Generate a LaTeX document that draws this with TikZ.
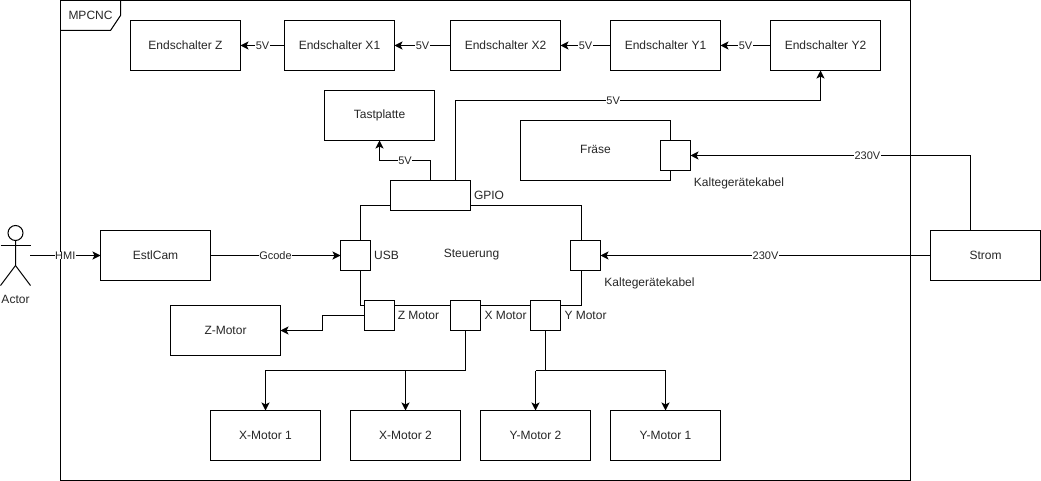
\documentclass[tikz,border=0pt]{standalone}
\usepackage{fontspec}
\setmainfont{Liberation Sans}
\usetikzlibrary{arrows.meta}
\tikzset{
  every node/.style={font=\fontsize{12}{14}\selectfont, text=black!85, inner sep=0pt, outer sep=0pt},
  box/.style={draw=black, line width=1pt, fill=white, text=black!85},
  wide/.style={box, minimum width=110pt, minimum height=50pt},
  port/.style={box, minimum width=30pt, minimum height=30pt},
  wire/.style={draw=black, line width=1pt, -{Stealth[length=8pt,width=8pt,inset=2pt]}},
  plain/.style={draw=black, line width=1pt},
  lab/.style={fill=white, inner xsep=0.5pt, inner ysep=0pt, font=\fontsize{11}{13}\selectfont},
  tag/.style={text=black!85}
}
\begin{document}
\begin{tikzpicture}[x=1pt,y=-1pt]
\useasboundingbox (0,0) rectangle (1041,481);
% frame
\node[draw=black, line width=1pt, minimum width=850pt, minimum height=480pt] (frame) at (485.5,240.5) {};
\draw[plain] (60.5,0.5) -- (120.5,0.5) -- (120.5,15.5) -- (110.5,30.5) -- (60.5,30.5);
\node[tag] (mpcnc) at (90.5,15) {MPCNC};
% actor
\coordinate (actorhand) at (30,255.5);
\draw[plain] (15.5,233) circle (7.5);
\draw[plain] (15.5,240.5) -- (15.5,265.5) -- (0.5,285.5);
\draw[plain] (15.5,265.5) -- (30.5,285.5);
\draw[plain] (0.5,245.5) -- (30.5,245.5);
\node[tag] (actorlab) at (15.5,299) {Actor};
% top row
\node[wide] (ez) at (185.5,45.5) {Endschalter Z};
\node[wide] (ex1) at (339.5,45.5) {Endschalter X1};
\node[wide] (ex2) at (505.5,45.5) {Endschalter X2};
\node[wide] (ey1) at (665.5,45.5) {Endschalter Y1};
\node[wide] (ey2) at (825.5,45.5) {Endschalter Y2};
\node[wide] (tast) at (379.5,115.5) {Tastplatte};
\node[box, minimum width=150pt, minimum height=60pt] (fraese) at (595.5,150.5) {};
\node (fraeselab) at (595.5,149.5) {Fräse};
\node[port] (fport) at (675.5,155.5) {};
\node[wide] (strom) at (985.5,255.5) {Strom};
\node[wide] (estl) at (155.5,255.5) {EstlCam};
\node[wide] (zm) at (225.5,330.5) {Z-Motor};
\node[wide] (xm1) at (265.5,435.5) {X-Motor 1};
\node[wide] (xm2) at (405.5,435.5) {X-Motor 2};
\node[wide] (ym2) at (535.5,435.5) {Y-Motor 2};
\node[wide] (ym1) at (665.5,435.5) {Y-Motor 1};
% controller
\node[box, minimum width=221pt, minimum height=100pt] (steuer) at (471,255.5) {};
\node (steuerlab) at (471.5,254.5) {Steuerung};
\node[box, minimum width=80pt, minimum height=30pt] (gpio) at (430.5,195.5) {};
\node[port] (usb) at (355.5,255.5) {};
\node[port] (pow) at (585.5,255.5) {};
\node[port] (zp) at (379.5,315.5) {};
\node[port] (xp) at (465.5,315.5) {};
\node[port] (yp) at (545.5,315.5) {};
% port labels
\node[tag] (gpiolab) at (489,195.5) {GPIO};
\node[tag] (usblab) at (386.5,255.5) {USB};
\node[tag] (zlab) at (418.5,315.5) {Z Motor};
\node[tag] (xlab) at (505.5,315.5) {X Motor};
\node[tag] (ylab) at (585.5,315.5) {Y Motor};
\node[tag] (k1) at (739,183.5) {Kaltegerätekabel};
\node[tag] (k2) at (649.5,283.5) {Kaltegerätekabel};
% chain
\draw[wire] (ex1) -- node[lab]{5V} (ez);
\draw[wire] (ex2) -- node[lab]{5V} (ex1);
\draw[wire] (ey1) -- node[lab]{5V} (ex2);
\draw[wire] (ey2) -- node[lab]{5V} (ey1);
% GPIO
\draw[wire] (gpio.north) -- ++(0,-20) -- node[lab]{5V} ++(-51,0) -- (tast.south);
\draw[wire] ([xshift=25pt]gpio.north) |- node[lab,pos=0.716]{5V} ([xshift=-5pt,yshift=-30pt]ey2.south) -- ([xshift=-5pt]ey2.south);
% flows
\draw[wire] (actorhand) -- node[lab]{HMI} (estl.west);
\draw[wire] (estl.east) -- node[lab]{Gcode} (usb.west);
\draw[wire] (strom.west) -- node[lab]{230V} (pow.east);
\draw[wire] ([xshift=-15pt]strom.north) |- node[lab,pos=0.684]{230V} (fport.east);
% motors
\draw[wire] (zp.west) -- ++(-42,0) -- ++(0,15) -- (zm.east);
\draw[wire] (xp.south) -- ++(0,40) -| (xm1.north);
\draw[wire] (xm2.north |- 0,370.5) -- (xm2.north);
\draw[wire] (yp.south) -- ++(0,40) -| (ym1.north);
\draw[plain] (yp.south |- 0,370.5) -- (ym2.north |- 0,370.5);
\draw[wire] (ym2.north |- 0,370.5) -- (ym2.north);
\end{tikzpicture}
\end{document}
